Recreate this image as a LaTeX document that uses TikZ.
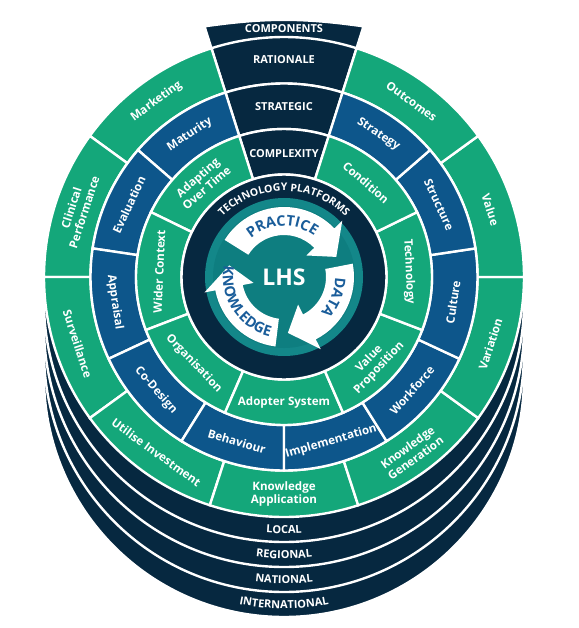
\documentclass[tikz,border=0pt]{standalone}
\usepackage{fontspec}
\setmainfont{Open Sans}
\usetikzlibrary{decorations.text}
\definecolor{cgreen}{HTML}{14A77A}
\definecolor{cblue}{HTML}{0D568B}
\definecolor{cnavy}{HTML}{062840}
\definecolor{cteal}{HTML}{138789}
\definecolor{cteald}{HTML}{0E7E80}
\definecolor{ctext}{HTML}{1A5D9A}
\newcommand\myLbl{\bfseries\fontsize{11.6}{13.5}\selectfont}
\newcommand\myCaps{\bfseries\fontsize{11}{13}\selectfont}
\newcommand\myTech{\bfseries\fontsize{10.5}{12}\selectfont}
\newcommand\myArr{\bfseries\fontsize{14.5}{14.5}\selectfont}
\newcommand\ringcell[5]{\filldraw[cell, fill=#1] (#2:#4pt) arc[start angle=#2, end angle=#3, radius=#4pt] -- (#3:#5pt) arc[start angle=#3, end angle=#2, radius=#5pt] -- cycle;}
\newcommand\cyclearrow[3]{\fill[white] (#1:70pt) arc[start angle=#1, end angle=#2, radius=70pt] -- (#2:81pt) -- (#3:56pt) -- (#2:31pt) -- (#2:42pt) arc[start angle=#2, end angle=#1, radius=42pt] -- cycle;}
\tikzset{
  cell/.style={draw=white, line width=2.4pt},
  lbl/.style={text=white, font=\myLbl, align=center, inner sep=0pt},
  caplbl/.style={text=white, font=\myCaps, align=center, inner sep=0pt},
}
\begin{document}
\begin{tikzpicture}[x=1pt,y=1pt]
\useasboundingbox (0,0) rectangle (578,-628);
\begin{scope}[shift={(284,-277)}]
% stacked layers
\begin{scope}[yshift=-100pt]
 \filldraw[cell, fill=cnavy] (0,0) circle[radius=240pt];
 \path[decorate, decoration={text along path, text align=center, text={|\myCaps\color{white}|INTERNATIONAL}}] (250:231.5pt) arc[start angle=250, end angle=290, radius=231.5pt];
\end{scope}
\begin{scope}[yshift=-75pt]
 \filldraw[cell, fill=cnavy] (0,0) circle[radius=240pt];
 \path[decorate, decoration={text along path, text align=center, text={|\myCaps\color{white}|NATIONAL}}] (250:231.5pt) arc[start angle=250, end angle=290, radius=231.5pt];
\end{scope}
\begin{scope}[yshift=-50pt]
 \filldraw[cell, fill=cnavy] (0,0) circle[radius=240pt];
 \path[decorate, decoration={text along path, text align=center, text={|\myCaps\color{white}|REGIONAL}}] (250:231.5pt) arc[start angle=250, end angle=290, radius=231.5pt];
\end{scope}
\begin{scope}[yshift=-25pt]
 \filldraw[cell, fill=cnavy] (0,0) circle[radius=240pt];
 \path[decorate, decoration={text along path, text align=center, text={|\myCaps\color{white}|LOCAL}}] (250:231.5pt) arc[start angle=250, end angle=290, radius=231.5pt];
\end{scope}
% components cap
\filldraw[cell, fill=cnavy] (107.6:238pt) -- (107.6:263pt) to[bend left=8] (72.4:263pt) -- (72.4:238pt) -- cycle;
% outer ring
\ringcell{cnavy}{72.4}{107.6}{193.5}{240}
\ringcell{cgreen}{107.6}{144}{193.5}{240}
\ringcell{cgreen}{144}{180}{193.5}{240}
\ringcell{cgreen}{180}{216}{193.5}{240}
\ringcell{cgreen}{216}{252}{193.5}{240}
\ringcell{cgreen}{252}{288}{193.5}{240}
\ringcell{cgreen}{288}{324}{193.5}{240}
\ringcell{cgreen}{324}{360}{193.5}{240}
\ringcell{cgreen}{0}{36}{193.5}{240}
\ringcell{cgreen}{36}{72.4}{193.5}{240}
% blue ring
\ringcell{cnavy}{72.4}{107.6}{148}{193.5}
\ringcell{cblue}{107.6}{139}{148}{193.5}
\ringcell{cblue}{139}{171.5}{148}{193.5}
\ringcell{cblue}{171.5}{205}{148}{193.5}
\ringcell{cblue}{205}{238}{148}{193.5}
\ringcell{cblue}{238}{270}{148}{193.5}
\ringcell{cblue}{270}{302}{148}{193.5}
\ringcell{cblue}{302}{335}{148}{193.5}
\ringcell{cblue}{335}{368.5}{148}{193.5}
\ringcell{cblue}{8.5}{41}{148}{193.5}
\ringcell{cblue}{41}{72.4}{148}{193.5}
% middle ring
\ringcell{cnavy}{72.4}{107.6}{102.5}{148}
\ringcell{cgreen}{107.6}{154}{102.5}{148}
\ringcell{cgreen}{154}{201}{102.5}{148}
\ringcell{cgreen}{201}{246.5}{102.5}{148}
\ringcell{cgreen}{246.5}{293.5}{102.5}{148}
\ringcell{cgreen}{293.5}{339}{102.5}{148}
\ringcell{cgreen}{339}{386}{102.5}{148}
\ringcell{cgreen}{26}{72.4}{102.5}{148}
% core
\filldraw[cell, fill=cnavy] (0,0) circle[radius=102.5pt];
\fill[cteal] (0,0) circle[radius=79pt];
\fill[cteald] (0,0) circle[radius=71pt];
\path[decorate, decoration={text along path, text align=center, text={|\myTech\color{white}|TECHNOLOGY PLATFORMS}}] (154:86pt) arc[start angle=154, end angle=26, radius=86pt];
% cycle arrows
\cyclearrow{148}{44}{21}
\cyclearrow{11}{-63}{-86}
\cyclearrow{263}{191}{168}
\path[decorate, decoration={text along path, text align=center, text={|\myArr\color{ctext}|PRACTICE}}] (150:51pt) arc[start angle=150, end angle=34, radius=51pt];
\path[decorate, decoration={text along path, text align=center, text={|\myArr\color{ctext}|DATA}}] (20:51pt) arc[start angle=20, end angle=-64, radius=51pt];
\path[decorate, decoration={text along path, text align=center, text={|\myArr\color{ctext}|KNOWLEDGE}}] (164:61pt) arc[start angle=164, end angle=262, radius=61pt];
\node[text=white, font=\bfseries\fontsize{23}{23}\selectfont, inner sep=0pt] (lhs) at (0,0) {LHS};
% labels
\node[caplbl] (components) at (90:248pt) {COMPONENTS};
\node[caplbl] (rationale) at (90:217pt) {RATIONALE};
\node[lbl, rotate=36] (marketing) at (126:217pt) {Marketing};
\node[lbl, rotate=72] (clinical) at (162:217pt) {Clinical\\Performance};
\node[lbl, rotate=-72] (surveillance) at (198:217pt) {Surveillance};
\node[lbl, rotate=-36] (utilise) at (234:217pt) {Utilise Investment};
\node[lbl] (kapp) at (270:217pt) {Knowledge\\Application};
\node[lbl, rotate=36] (kgen) at (306:217pt) {Knowledge\\Generation};
\node[lbl, rotate=72] (variation) at (342:217pt) {Variation};
\node[lbl, rotate=-72] (value) at (18:217pt) {Value};
\node[lbl, rotate=-36] (outcomes) at (54:217pt) {Outcomes};
\node[caplbl] (strategic) at (90:170pt) {STRATEGIC};
\node[lbl, rotate=33.5] (maturity) at (123.5:171pt) {Maturity};
\node[lbl, rotate=65] (evaluation) at (155:171pt) {Evaluation};
\node[lbl, rotate=-81.5] (appraisal) at (188.5:171pt) {Appraisal};
\node[lbl, rotate=-48.5] (codesign) at (221.5:171pt) {Co-Design};
\node[lbl, rotate=-16] (behaviour) at (254:171pt) {Behaviour};
\node[lbl, rotate=16] (implementation) at (286:171pt) {Implementation};
\node[lbl, rotate=48.5] (workforce) at (318.5:171pt) {Workforce};
\node[lbl, rotate=81.5] (culture) at (351.5:171pt) {Culture};
\node[lbl, rotate=-65] (structure) at (25:171pt) {Structure};
\node[lbl, rotate=-33.5] (strategy) at (56.5:171pt) {Strategy};
\node[caplbl] (complexity) at (90:123pt) {COMPLEXITY};
\node[lbl, rotate=41] (adapting) at (131:125pt) {Adapting\\Over Time};
\node[lbl, rotate=87.5] (wider) at (177.5:125pt) {Wider Context};
\node[lbl, rotate=-46.25] (organisation) at (223.75:125pt) {Organisation};
\node[lbl] (adopter) at (270:125pt) {Adopter System};
\node[lbl, rotate=46.25] (valueprop) at (316.25:125pt) {Value\\Proposition};
\node[lbl, rotate=-87.5] (technology) at (2.5:125pt) {Technology};
\node[lbl, rotate=-41] (condition) at (49:125pt) {Condition};
\end{scope}
\end{tikzpicture}
\end{document}
